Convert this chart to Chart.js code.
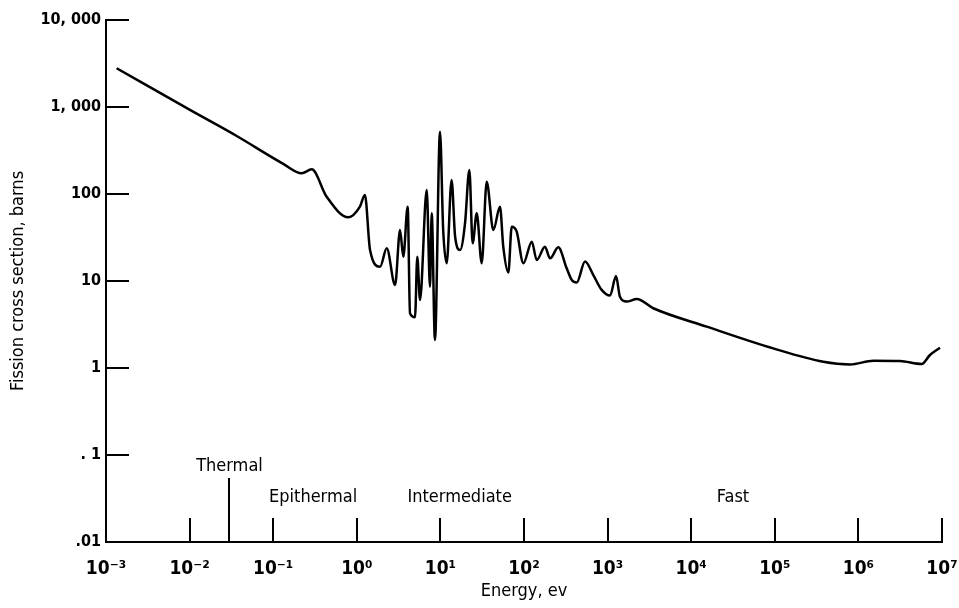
<!DOCTYPE html>
<html>
<head>
<meta charset="utf-8">
<script src="https://cdn.jsdelivr.net/npm/chart.js@4/dist/chart.umd.min.js"></script>
<style>
  html, body { margin: 0; background: #fff; }
</style>
</head>
<body>
<canvas id="chart" width="959" height="608"></canvas>
<script>
// energy (eV) and fission cross section (barns)
const energy = [
  0.00134, 0.0101, 0.0366, 0.132, 0.219, 0.289, 0.436, 0.791, 1.09, 1.25,
  1.44, 1.90, 2.28, 2.87, 3.29, 3.60, 4.06, 4.33, 4.97, 5.29,
  5.70, 6.86, 7.51, 7.87, 8.61, 9.89, 10.8, 11.9, 13.6, 15.0,
  17.2, 19.7, 22.2, 24.3, 27.2, 31.2, 35.8, 43.0, 51.6, 56.5,
  65.0, 71.3, 81.8, 98.2, 124, 142, 178, 205, 257, 324,
  372, 427, 537, 675, 849, 1070, 1260, 1405, 1690, 2230,
  3520, 15300, 95900, 380000, 794000, 1510000, 3150000, 5720000, 7180000, 9460000
];
const crossSection = [
  2790, 925, 464, 222, 173, 192, 93, 54, 71.5, 97.5,
  22.7, 14.6, 23.8, 9.0, 38.5, 19.0, 71.5, 4.26, 3.83, 19.0,
  6.05, 111, 8.6, 60, 2.10, 520, 38.5, 16.0, 145, 32.3,
  22.7, 46, 189, 27.1, 60, 16.0, 138, 38.5, 71.5, 24.8,
  12.5, 42, 36.9, 16.0, 28.3, 17.4, 24.8, 18.2, 24.4, 14.0,
  10.3, 9.6, 16.7, 11.7, 7.9, 6.8, 11.4, 6.6, 5.8, 6.2,
  4.86, 2.99, 1.68, 1.18, 1.10, 1.21, 1.20, 1.11, 1.41, 1.71
];

const xTicks = [1e-3, 1e-2, 1e-1, 1e0, 1e1, 1e2, 1e3, 1e4, 1e5, 1e6, 1e7];
const xTickLabels = ['10⁻³', '10⁻²', '10⁻¹', '10⁰', '10¹', '10²', '10³', '10⁴', '10⁵', '10⁶', '10⁷'];
const yTicks = [0.01, 0.1, 1, 10, 100, 1000, 10000];
const yTickLabels = ['.01', '. 1', '1', '10', '100', '1, 000', '10, 000'];

const regionNames = ['Thermal', 'Epithermal', 'Intermediate', 'Fast'];
const regionCenters = [0.03, 0.3, 17, 31600];
const thermalEnergy = 0.03;

const FONT = '"Liberation Sans Narrow", "DejaVu Sans Condensed", "Liberation Sans", sans-serif';

// short inward ticks on both axes plus the energy-region labels
const innerMarks = {
  id: 'innerMarks',
  afterDatasetsDraw(chart) {
    const { ctx, scales: { x, y } } = chart;
    const base = y.getPixelForValue(yTicks[0]);
    ctx.save();
    ctx.strokeStyle = '#000';
    ctx.lineWidth = 2;
    ctx.beginPath();
    xTicks.slice(1).forEach(v => {
      const px = Math.round(x.getPixelForValue(v));
      ctx.moveTo(px, base);
      ctx.lineTo(px, base - 24);
    });
    const tx = Math.round(x.getPixelForValue(thermalEnergy));
    ctx.moveTo(tx, base);
    ctx.lineTo(tx, base - 64);
    yTicks.slice(1).forEach(v => {
      const py = Math.round(y.getPixelForValue(v));
      ctx.moveTo(x.left, py);
      ctx.lineTo(x.left + 23, py);
    });
    ctx.stroke();

    ctx.fillStyle = '#000';
    ctx.textAlign = 'center';
    ctx.textBaseline = 'alphabetic';
    ctx.font = '18px ' + FONT;
    regionNames.forEach((name, i) => {
      const px = x.getPixelForValue(regionCenters[i]);
      const lift = i === 0 ? 71 : 40;
      ctx.fillText(name, px, base - lift);
    });
    ctx.restore();
  }
};

new Chart(document.getElementById('chart'), {
  type: 'line',
  data: {
    datasets: [{
      data: energy.map((e, i) => ({ x: e, y: crossSection[i] })),
      borderColor: '#000',
      borderWidth: 2.5,
      pointRadius: 0,
      fill: false,
      cubicInterpolationMode: 'monotone'
    }]
  },
  options: {
    responsive: false,
    animation: false,
    devicePixelRatio: 1,
    layout: { padding: { top: 20, right: 17, left: 0, bottom: 0 } },
    plugins: { legend: { display: false }, tooltip: { enabled: false } },
    scales: {
      x: {
        type: 'logarithmic',
        min: 1e-3,
        max: 1e7,
        afterBuildTicks: s => { s.ticks = xTicks.map(v => ({ value: v })); },
        afterFit: s => { s.height = 66; s.paddingLeft = 0; s.paddingRight = 0; },
        grid: { display: false },
        border: { display: true, color: '#000', width: 2 },
        ticks: {
          autoSkip: false,
          maxRotation: 0,
          color: '#000',
          padding: 8,
          font: { family: FONT, size: 19, weight: 'bold' },
          callback: (v, i) => xTickLabels[i]
        },
        title: {
          display: true,
          text: 'Energy, ev',
          color: '#000',
          font: { family: FONT, size: 18 },
          padding: { top: 0, bottom: 6 }
        }
      },
      y: {
        type: 'logarithmic',
        min: 0.01,
        max: 10000,
        afterBuildTicks: s => { s.ticks = yTicks.map(v => ({ value: v })); },
        afterFit: s => { s.width = 106; s.paddingTop = 0; s.paddingBottom = 0; },
        grid: { display: false, drawTicks: false },
        border: { display: true, color: '#000', width: 2 },
        ticks: {
          autoSkip: false,
          color: '#000',
          padding: 5,
          font: { family: FONT, size: 16, weight: 'bold' },
          callback: (v, i) => yTickLabels[i]
        },
        title: {
          display: true,
          text: 'Fission cross section, barns',
          color: '#000',
          font: { family: FONT, size: 18 },
          padding: { top: 8, bottom: 0 }
        }
      }
    }
  },
  plugins: [innerMarks]
});
</script>
</body>
</html>
